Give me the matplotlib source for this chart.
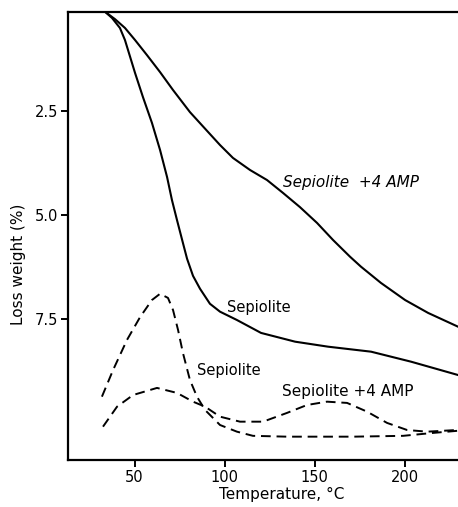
import matplotlib
matplotlib.use('Agg')
from matplotlib import pyplot as plt

# TG curves (loss weight, %)
tg_sep_t = [33.6, 37.5, 41.9, 44.7, 50.3, 54.7, 59.7, 64.2, 68.1, 70.8, 73.6, 76.9,
            79.2, 82.5, 86.4, 91.9, 97.5, 106.9, 120.3, 139.2, 157.5, 181.4, 203.6, 229.7]
tg_sep_w = [0.12, 0.27, 0.51, 0.80, 1.59, 2.17, 2.79, 3.44, 4.09, 4.64, 5.12, 5.67,
            6.05, 6.46, 6.77, 7.13, 7.32, 7.52, 7.83, 8.04, 8.16, 8.28, 8.52, 8.84]

tg_amp_t = [33.6, 39.2, 44.7, 50.3, 56.9, 64.2, 71.4, 80.8, 90.3, 97.5, 104.7, 114.2,
            123.6, 132.5, 141.9, 151.4, 160.3, 169.7, 175.8, 186.9, 200.3, 213.1, 229.7]
tg_amp_w = [0.12, 0.30, 0.51, 0.80, 1.16, 1.57, 2.00, 2.53, 2.98, 3.32, 3.63, 3.92,
            4.16, 4.47, 4.81, 5.19, 5.60, 6.00, 6.24, 6.63, 7.04, 7.35, 7.68]

# DTG curves (dashed), on the same scale as in the figure
dtg_sep_t = [31.9, 38.1, 45.8, 53.1, 59.7, 64.2, 68.6, 71.4, 74.2, 76.9, 80.8, 84.7,
             89.2, 93.6, 97.5, 106.9, 115.8, 134.7, 171.4, 199.2, 215.8, 229.2]
dtg_sep_w = [9.36, 8.72, 8.00, 7.45, 7.04, 6.89, 6.99, 7.28, 7.76, 8.31, 8.96, 9.36,
             9.68, 9.87, 10.04, 10.20, 10.30, 10.32, 10.32, 10.30, 10.23, 10.18]

dtg_amp_t = [32.5, 40.3, 49.2, 62.5, 73.6, 82.5, 89.2, 97.5, 108.6, 121.4, 134.7, 145.8,
             156.9, 168.1, 179.2, 190.3, 201.4, 212.5, 229.2]
dtg_amp_w = [10.08, 9.60, 9.32, 9.15, 9.27, 9.48, 9.60, 9.84, 9.96, 9.96, 9.75, 9.56,
             9.48, 9.51, 9.72, 9.99, 10.16, 10.20, 10.16]

x_ticks = [50, 100, 150, 200]
y_ticks = [2.5, 5.0, 7.5]
y_ticklabels = ['2.5', '5.0', '7.5']

plt.rcParams['font.family'] = ['DejaVu Sans']

fig = plt.figure(figsize=(4.58, 5.07), dpi=100)
ax = fig.add_axes([68 / 458, 47 / 507, 390 / 458, 448.3 / 507])

ax.plot(tg_sep_t, tg_sep_w, color='black', linewidth=1.5)
ax.plot(tg_amp_t, tg_amp_w, color='black', linewidth=1.5)
ax.plot(dtg_sep_t, dtg_sep_w, color='black', linewidth=1.4, linestyle=(0, (5, 3)))
ax.plot(dtg_amp_t, dtg_amp_w, color='black', linewidth=1.4, linestyle=(0, (5, 3)))

ax.text(132.5, 4.21, 'Sepiolite  +4 AMP', fontsize=11, style='italic', ha='left', va='center')
ax.text(101.5, 7.21, 'Sepiolite', fontsize=10.5, ha='left', va='center')
ax.text(84.7, 8.72, 'Sepiolite', fontsize=10.5, ha='left', va='center')
ax.text(132, 9.24, 'Sepiolite +4 AMP', fontsize=11, ha='left', va='center')

ax.set_xlim(13.06, 229.7)
ax.set_ylim(10.88, 0.12)
ax.set_xticks(x_ticks)
ax.set_yticks(y_ticks)
ax.set_yticklabels(y_ticklabels)

ax.spines['right'].set_visible(False)
for s in ['left', 'top', 'bottom']:
    ax.spines[s].set_linewidth(1.6)
ax.tick_params(direction='out', length=5, width=1.4, labelsize=10.5, pad=2)

ax.set_xlabel('Temperature, °C', fontsize=11)
ax.xaxis.set_label_coords((281.5 - 68) / 390, -0.06)
ax.set_ylabel('Loss weight (%)', fontsize=11)
ax.yaxis.set_label_coords(-0.108, 1 - (265 - 12) / 448.3)

fig.savefig('out.png', dpi=100)
